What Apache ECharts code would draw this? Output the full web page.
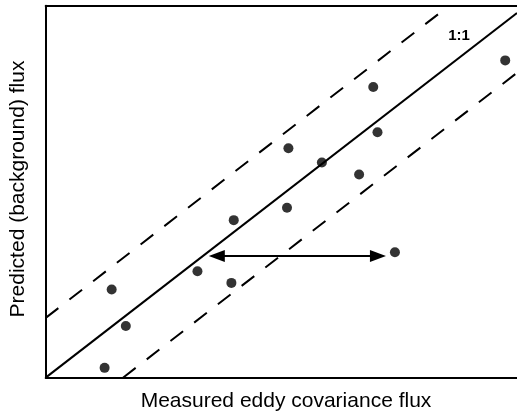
<!DOCTYPE html>
<html>
<head>
<meta charset="utf-8">
<script src="https://cdn.jsdelivr.net/npm/echarts@6/dist/echarts.min.js"></script>
<style>html,body{margin:0;padding:0;background:#fff;}#c{width:517px;height:415px;}</style>
</head>
<body>
<div id="c"></div>
<script>
// Data (relative units, x: 0..1, y: 0..1.02)
const pointsX = [0.125, 0.170, 0.140, 0.322, 0.394, 0.399, 0.512, 0.515, 0.586, 0.665, 0.704, 0.695, 0.975, 0.741];
const pointsY = [0.027, 0.142, 0.242, 0.292, 0.260, 0.432, 0.466, 0.629, 0.590, 0.557, 0.673, 0.797, 0.870, 0.344];
const refOffset = 0.164;
const arrowY = 0.334;
const arrowX = [0.346, 0.722];
const xTitle = 'Measured eddy covariance flux';
const yTitle = 'Predicted (background) flux';
const lineLabel = '1:1';
const xMax = 1.0, yMax = 1.02;

const pts = pointsX.map((x, i) => [x, pointsY[i]]);
const oneToOne = [[0, 0], [xMax, xMax]];
const upper = [[0, refOffset], [yMax - refOffset, yMax]];
const lower = [[refOffset, 0], [xMax, xMax - refOffset]];

const chart = echarts.init(document.getElementById('c'));
const font = '"Liberation Sans", Arial, sans-serif';
const hidden = { axisTick: { show: false }, axisLabel: { show: false }, splitLine: { show: false } };
chart.setOption({
  animation: false,
  grid: { left: 45.7, right: 0, top: 5.7, bottom: 37.3 },
  xAxis: [Object.assign({
    type: 'value', min: 0, max: xMax,
    axisLine: { show: true, onZero: false, lineStyle: { color: '#000', width: 2 } }
  }, hidden), Object.assign({
    type: 'value', min: 0, max: xMax, position: 'top',
    axisLine: { show: true, onZero: false, lineStyle: { color: '#000', width: 2 } }
  }, hidden)],
  yAxis: Object.assign({
    type: 'value', min: 0, max: yMax,
    axisLine: { show: true, onZero: false, lineStyle: { color: '#000', width: 2 } }
  }, hidden),
  series: [
    { type: 'line', data: oneToOne, symbol: 'none', lineStyle: { color: '#000', width: 2.1 } },
    { type: 'line', data: upper, symbol: 'none', lineStyle: { color: '#000', width: 2, type: [16, 14] } },
    { type: 'line', data: lower, symbol: 'none', lineStyle: { color: '#000', width: 2, type: [16, 14] } },
    {
      type: 'line', data: [], symbol: 'none',
      markLine: {
        silent: true, symbol: ['triangle', 'triangle'], symbolSize: [12, 16],
        lineStyle: { color: '#000', width: 2, type: 'solid' },
        label: { show: false },
        data: [[{ coord: [arrowX[0] + 0.017, arrowY], symbolRotate: 90 }, { coord: [arrowX[1] - 0.017, arrowY], symbolRotate: -90 }]]
      }
    },
    { type: 'scatter', data: pts, symbol: 'circle', symbolSize: 10, itemStyle: { color: '#000' } }
  ],
  graphic: [
    { type: 'text', x: 286, y: 401.5, style: { text: xTitle, font: '21px ' + font, fill: '#000', align: 'center', verticalAlign: 'middle' } },
    { type: 'text', x: 18.5, y: 189, rotation: Math.PI / 2, style: { text: yTitle, font: '21px ' + font, fill: '#000', align: 'center', verticalAlign: 'middle' } },
    { type: 'text', x: 459, y: 35.5, style: { text: lineLabel, font: 'bold 15px ' + font, fill: '#000', align: 'center', verticalAlign: 'middle' } }
  ]
});
</script>
</body>
</html>
